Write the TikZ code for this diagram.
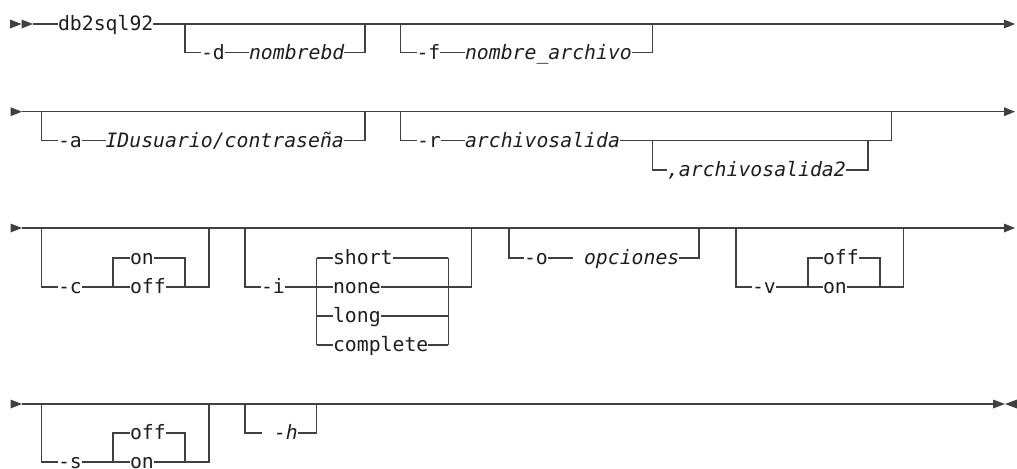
\documentclass[tikz,border=0pt]{standalone}
\usepackage{fontspec}
\newfontfamily\dmono{DejaVu Sans Mono}
\definecolor{lc}{RGB}{64,64,64}
\definecolor{tc}{RGB}{30,30,30}
\tikzset{
  rail/.style={draw=lc, line width=0.7pt},
  kw/.style={inner sep=0pt, outer sep=0pt, anchor=west, text height=7.5pt, text depth=1pt, text=tc, font=\dmono\fontsize{9.9pt}{12pt}\selectfont},
  va/.style={kw, font=\dmono\itshape\fontsize{9.9pt}{12pt}\selectfont},
  tip/.style={fill=lc, draw=none}
}
\begin{document}
\begin{tikzpicture}[x=0.5pt,y=-0.5pt]
\clip (0,0) rectangle (1017,468);
% ================= row 1
\fill[tip] (10,19.5) -- (21.5,24) -- (10,28.5) -- cycle;
\fill[tip] (21.5,19.5) -- (33,24) -- (21.5,28.5) -- cycle;
\coordinate (r1s) at (33,24);
\coordinate (r1e) at (1004,24);
\node[kw] (db) at (58,24) {db2sql92};
\draw[rail] (r1s) -- (db.west);
\draw[rail] (db.east) -- (r1e);
\fill[tip] (1004,19.5) -- (1015,24) -- (1004,28.5) -- cycle;
% -d
\coordinate (d0) at (185,24); \coordinate (d1) at (185,52.7);
\node[kw] (dk) at (201,52.7) {-d};
\node[va] (dv) at (249,52.7) {nombrebd};
\coordinate (d2) at (365,52.7); \coordinate (d3) at (365,24);
\draw[rail] (d0) -- (d1) -- (dk.west);
\draw[rail] (dk.east) -- (dv.west);
\draw[rail] (dv.east) -- (d2) -- (d3);
% -f
\coordinate (f0) at (400.7,24); \coordinate (f1) at (400.7,52.7);
\node[kw] (fk) at (416.5,52.7) {-f};
\node[va] (fv) at (465,52.7) {nombre\_archivo};
\coordinate (f2) at (652.7,52.7); \coordinate (f3) at (652.7,24);
\draw[rail] (f0) -- (f1) -- (fk.west);
\draw[rail] (fk.east) -- (fv.west);
\draw[rail] (fv.east) -- (f2) -- (f3);
% ================= row 2
\fill[tip] (10.5,107.2) -- (22,111.7) -- (10.5,116.2) -- cycle;
\coordinate (r2s) at (22,111.7);
\coordinate (r2e) at (1004,111.7);
\draw[rail] (r2s) -- (r2e);
\fill[tip] (1004,107.2) -- (1015,111.7) -- (1004,116.2) -- cycle;
% -a
\coordinate (a0) at (41.7,111.7); \coordinate (a1) at (41.7,140.7);
\node[kw] (ak) at (58,140.7) {-a};
\node[va] (av) at (105.5,140.7) {IDusuario/contraseña};
\coordinate (a2) at (365,140.7); \coordinate (a3) at (365,111.7);
\draw[rail] (a0) -- (a1) -- (ak.west);
\draw[rail] (ak.east) -- (av.west);
\draw[rail] (av.east) -- (a2) -- (a3);
% -r
\coordinate (rr0) at (400.7,111.7); \coordinate (rr1) at (400.7,140.7);
\node[kw] (rk) at (417,140.7) {-r};
\node[va] (rv) at (465,140.7) {archivosalida};
\coordinate (rr2) at (891.7,140.7); \coordinate (rr3) at (891.7,111.7);
\draw[rail] (rr0) -- (rr1) -- (rk.west);
\draw[rail] (rk.east) -- (rv.west);
\draw[rail] (rv.east) -- (rr2) -- (rr3);
\coordinate (rs0) at (652.7,140.7); \coordinate (rs1) at (652.7,170);
\node[va] (rv2) at (667,170) {,archivosalida2};
\coordinate (rs2) at (868,170); \coordinate (rs3) at (868,140.7);
\draw[rail] (rs0) -- (rs1) -- (rv2.west);
\draw[rail] (rv2.east) -- (rs2) -- (rs3);
% ================= row 3
\fill[tip] (10.5,223.5) -- (22,228) -- (10.5,232.5) -- cycle;
\coordinate (r3s) at (22,228);
\coordinate (r3e) at (1004,228);
\draw[rail] (r3s) -- (r3e);
\fill[tip] (1004,223.5) -- (1015,228) -- (1004,232.5) -- cycle;
% -c
\coordinate (c0) at (41.7,228); \coordinate (c1) at (41.7,287);
\node[kw] (ck) at (58,287) {-c};
\coordinate (cj) at (113,287); \coordinate (cjt) at (113,258);
\node[kw] (con) at (130,258) {on};
\node[kw] (coff) at (130,287) {off};
\coordinate (ck2) at (185,287); \coordinate (ck2t) at (185,258);
\coordinate (c2) at (209,287); \coordinate (c3) at (209,228);
\draw[rail] (c0) -- (c1) -- (ck.west);
\draw[rail] (ck.east) -- (cj) -- (coff.west);
\draw[rail] (cj) -- (cjt) -- (con.west);
\draw[rail] (con.east) -- (ck2t) -- (ck2);
\draw[rail] (coff.east) -- (c2) -- (c3);
% -i
\coordinate (i0) at (245,228); \coordinate (i1) at (245,287);
\node[kw] (ik) at (261,287) {-i};
\coordinate (ij) at (316.7,287); \coordinate (ija) at (316.7,258);
\coordinate (ijc) at (316.7,316); \coordinate (ijd) at (316.7,345);
\node[kw] (ishort) at (333,258) {short};
\node[kw] (inone) at (333,287) {none};
\node[kw] (ilong) at (333,316) {long};
\node[kw] (icomp) at (333,345) {complete};
\coordinate (ia) at (448.3,258); \coordinate (ib) at (448.3,287);
\coordinate (ic) at (448.3,316); \coordinate (id) at (448.3,345);
\coordinate (i2) at (471.7,287); \coordinate (i3) at (471.7,228);
\draw[rail] (i0) -- (i1) -- (ik.west);
\draw[rail] (ik.east) -- (ij) -- (inone.west);
\draw[rail] (ija) -- (ijd);
\draw[rail] (ija) -- (ishort.west);
\draw[rail] (ijc) -- (ilong.west);
\draw[rail] (ijd) -- (icomp.west);
\draw[rail] (ishort.east) -- (ia);
\draw[rail] (ilong.east) -- (ic);
\draw[rail] (icomp.east) -- (id);
\draw[rail] (ia) -- (id);
\draw[rail] (inone.east) -- (i2) -- (i3);
% -o
\coordinate (o0) at (509,228); \coordinate (o1) at (509,258);
\node[kw] (ok) at (524,258) {-o};
\coordinate (oe) at (573,258);
\node[va] (ov) at (584,258) {opciones};
\coordinate (o2) at (699,258); \coordinate (o3) at (699,228);
\draw[rail] (o0) -- (o1) -- (ok.west);
\draw[rail] (ok.east) -- (oe);
\draw[rail] (ov.east) -- (o2) -- (o3);
% -v
\coordinate (v0) at (736,228); \coordinate (v1) at (736,287);
\node[kw] (vk) at (752,287) {-v};
\coordinate (vj) at (808,287); \coordinate (vjt) at (808,258);
\node[kw] (voff) at (823,258) {off};
\node[kw] (von) at (823,287) {on};
\coordinate (vk2) at (880,287); \coordinate (vk2t) at (880,258);
\coordinate (v2) at (903.6,287); \coordinate (v3) at (903.6,228);
\draw[rail] (v0) -- (v1) -- (vk.west);
\draw[rail] (vk.east) -- (vj) -- (von.west);
\draw[rail] (vj) -- (vjt) -- (voff.west);
\draw[rail] (voff.east) -- (vk2t) -- (vk2);
\draw[rail] (von.east) -- (v2) -- (v3);
% ================= row 4
\fill[tip] (10.5,399.5) -- (22,404) -- (10.5,408.5) -- cycle;
\coordinate (r4s) at (22,404);
\coordinate (r4e) at (993,404);
\draw[rail] (r4s) -- (r4e);
\fill[tip] (993,399.5) -- (1005,404) -- (993,408.5) -- cycle;
\fill[tip] (1017,399.5) -- (1005,404) -- (1017,408.5) -- cycle;
% -s
\coordinate (s0) at (41.7,404); \coordinate (s1) at (41.7,462);
\node[kw] (sk) at (58,462) {-s};
\coordinate (sj) at (113,462); \coordinate (sjt) at (113,433);
\node[kw] (soff) at (130,433) {off};
\node[kw] (son) at (130,462) {on};
\coordinate (sk2) at (185,462); \coordinate (sk2t) at (185,433);
\coordinate (s2) at (209,462); \coordinate (s3) at (209,404);
\draw[rail] (s0) -- (s1) -- (sk.west);
\draw[rail] (sk.east) -- (sj) -- (son.west);
\draw[rail] (sj) -- (sjt) -- (soff.west);
\draw[rail] (soff.east) -- (sk2t) -- (sk2);
\draw[rail] (son.east) -- (s2) -- (s3);
% -h
\coordinate (h0) at (245,404); \coordinate (h1) at (245,433);
\coordinate (hg) at (261.7,433);
\node[va] (hk) at (274,433) {-h};
\coordinate (h2) at (316.7,433); \coordinate (h3) at (316.7,404);
\draw[rail] (h0) -- (h1) -- (hg);
\draw[rail] (hk.east) -- (h2) -- (h3);
\end{tikzpicture}
\end{document}
